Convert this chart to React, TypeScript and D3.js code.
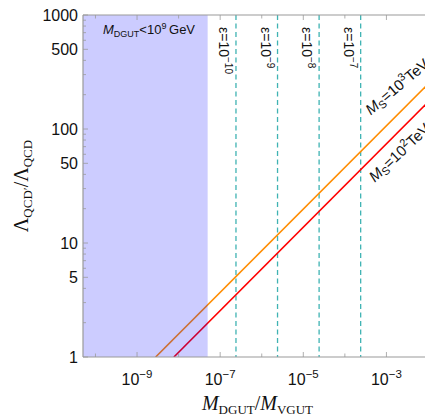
import React from "react";
import * as d3 from "d3";

// tick labels
const yMajorTicks = [1, 5, 10, 50, 100, 500, 1000];
const xLabelExponents = [-9, -7, -5, -3];

// epsilon lines (dashed)
const epsilonExponents = [-10, -9, -8, -7];
const epsilonPositions = [2.4e-7, 2.4e-6, 2.4e-5, 2.4e-4];

// excluded region M_DGUT < 10^9 GeV
const excludedMax = 5e-8;

// M_S curves
const ms3Line = [
  { x: 2.8e-9, y: 1 },
  { x: 1e-2, y: 248 },
];
const ms2Line = [
  { x: 7.7e-9, y: 1 },
  { x: 1e-2, y: 172 },
];

const W = 425;
const H = 416;
const margin = { top: 15, bottom: 59, left: 83, right: -3 };
const sans = "'Liberation Sans', Arial, sans-serif";
const serif = "'Liberation Serif', 'Times New Roman', serif";
const frameColor = "#9a9a9a";

const App = () => {
  const x = d3
    .scaleLog()
    .domain([10 ** -10.3, 1e-2])
    .range([margin.left, W - margin.right]);
  const y = d3
    .scaleLog()
    .domain([1, 1000])
    .range([H - margin.bottom, margin.top]);

  const line = d3
    .line<{ x: number; y: number }>()
    .x((d) => x(d.x))
    .y((d) => y(d.y));

  const x0 = margin.left;
  const x1 = W - margin.right;
  const y0 = H - margin.bottom;
  const y1 = margin.top;

  const yTicks = y.ticks();
  const xDecades = d3.range(-10, -1).map((e) => 10 ** e);

  // point on a curve at a given x (log-log straight segment)
  const pointOn = (pts, xv) => {
    const a = pts[0];
    const b = pts[1];
    const t = (Math.log10(xv) - Math.log10(a.x)) / (Math.log10(b.x) - Math.log10(a.x));
    return [x(xv), y(10 ** (Math.log10(a.y) + t * (Math.log10(b.y) - Math.log10(a.y))))];
  };
  const p3 = pointOn(ms3Line, 4.2e-4);
  const p2 = pointOn(ms2Line, 5.2e-4);

  const curveLabel = (exp, px, py, ang) => (
    <text
      transform={`translate(${px},${py}) rotate(${ang})`}
      fontFamily={sans}
      fontSize={15}
      fill="#111"
    >
      <tspan fontStyle="italic">M</tspan>
      <tspan fontSize={11} dy={3}>S</tspan>
      <tspan dy={-3}>=10</tspan>
      <tspan fontSize={11} dy={-6}>{exp}</tspan>
      <tspan dy={6}>TeV</tspan>
    </text>
  );

  return (
    <svg
      width={W}
      height={H}
      style={{ position: "absolute", left: 0, top: 0, background: "#fff" }}
    >
      <defs>
        <clipPath id="plot">
          <rect x={x0} y={y1} width={x1 - x0} height={y0 - y1} />
        </clipPath>
      </defs>

      {/* epsilon dashed lines */}
      {epsilonPositions.map((e, i) => (
        <line
          key={i}
          x1={x(e)}
          x2={x(e)}
          y1={y1}
          y2={y0}
          stroke="#3fb3b3"
          strokeWidth={1.3}
          strokeDasharray="5,3.5"
        />
      ))}

      {/* curves */}
      <g clipPath="url(#plot)">
        <path d={line(ms3Line)} fill="none" stroke="#ff8c00" strokeWidth={1.6} />
        <path d={line(ms2Line)} fill="none" stroke="#ff0000" strokeWidth={1.6} />
      </g>

      {/* excluded region */}
      <rect
        x={x0}
        y={y1}
        width={x(excludedMax) - x0}
        height={y0 - y1}
        fill="#0000ff"
        fillOpacity={0.2}
      />

      {/* frame */}
      <line x1={x0} x2={x1} y1={y0} y2={y0} stroke={frameColor} strokeWidth={1.2} />
      <line x1={x0} x2={x1} y1={y1} y2={y1} stroke={frameColor} strokeWidth={1.2} />
      <line x1={x0} x2={x0} y1={y1} y2={y0} stroke={frameColor} strokeWidth={1.2} />

      {/* y ticks */}
      {yTicks.map((t, i) => {
        const major = yMajorTicks.includes(t);
        return (
          <line
            key={i}
            x1={x0}
            x2={x0 + (major ? 5 : 3)}
            y1={y(t)}
            y2={y(t)}
            stroke={frameColor}
            strokeWidth={0.8}
          />
        );
      })}
      {yMajorTicks.map((t) => (
        <text
          key={t}
          x={x0 - 5}
          y={y(t)}
          dy="0.36em"
          textAnchor="end"
          fontFamily={sans}
          fontSize={16}
          fill="#111"
        >
          {t}
        </text>
      ))}

      {/* x ticks, bottom and top */}
      {xDecades.map((t, i) => {
        const major = xLabelExponents.includes(Math.round(Math.log10(t)));
        const len = major ? 5 : 3.5;
        return (
          <g key={i}>
            <line x1={x(t)} x2={x(t)} y1={y0} y2={y0 - len} stroke={frameColor} strokeWidth={0.8} />
            <line x1={x(t)} x2={x(t)} y1={y1} y2={y1 + len} stroke={frameColor} strokeWidth={0.8} />
          </g>
        );
      })}
      {xLabelExponents.map((e) => (
        <text
          key={e}
          x={x(10 ** e)}
          y={385}
          textAnchor="middle"
          fontFamily={sans}
          fontSize={16}
          fill="#111"
        >
          10
          <tspan dy={-7} fontSize={11.5}>
            {"\u2212" + Math.abs(e)}
          </tspan>
        </text>
      ))}

      {/* region label */}
      <text x={103} y={34} fontFamily={sans} fontSize={13} fill="#111">
        <tspan fontStyle="italic">M</tspan>
        <tspan fontSize={9} dy={3}>DGUT</tspan>
        <tspan dy={-3}>{"<10"}</tspan>
        <tspan fontSize={9} dy={-5}>9</tspan>
        <tspan dy={5}>{"\u2009GeV"}</tspan>
      </text>

      {/* epsilon labels */}
      {epsilonPositions.map((e, i) => (
        <text
          key={i}
          transform={`translate(${x(e) - 17},27) rotate(90)`}
          fontFamily={sans}
          fontSize={14}
          fill="#111"
        >
          {"\u03b5=10"}
          <tspan dy={-6} fontSize={10}>
            {"\u2212" + Math.abs(epsilonExponents[i])}
          </tspan>
        </text>
      ))}

      {/* curve labels */}
      {curveLabel(3, p3[0], p3[1] - 26, -40)}
      {curveLabel(2, p2[0], p2[1] + 27, -43)}

      {/* axis titles */}
      <text
        transform={`translate(28,${(y0 + y1) / 2}) rotate(-90)`}
        textAnchor="middle"
        fontFamily={serif}
        fontSize={20}
        fill="#111"
      >
        {"\u039b"}
        <tspan fontSize={13} dy={4}>{"QCD\u2032"}</tspan>
        <tspan dy={-4}>{"/\u039b"}</tspan>
        <tspan fontSize={13} dy={4}>QCD</tspan>
      </text>
      <text
        x={(x0 + x1) / 2 + 2}
        y={410}
        textAnchor="middle"
        fontFamily={serif}
        fontSize={20}
        fill="#111"
      >
        <tspan fontStyle="italic">M</tspan>
        <tspan fontSize={13} dy={4}>DGUT</tspan>
        <tspan dy={-4}>/</tspan>
        <tspan fontStyle="italic">M</tspan>
        <tspan fontSize={13} dy={4}>VGUT</tspan>
      </text>
    </svg>
  );
};

export default App;
